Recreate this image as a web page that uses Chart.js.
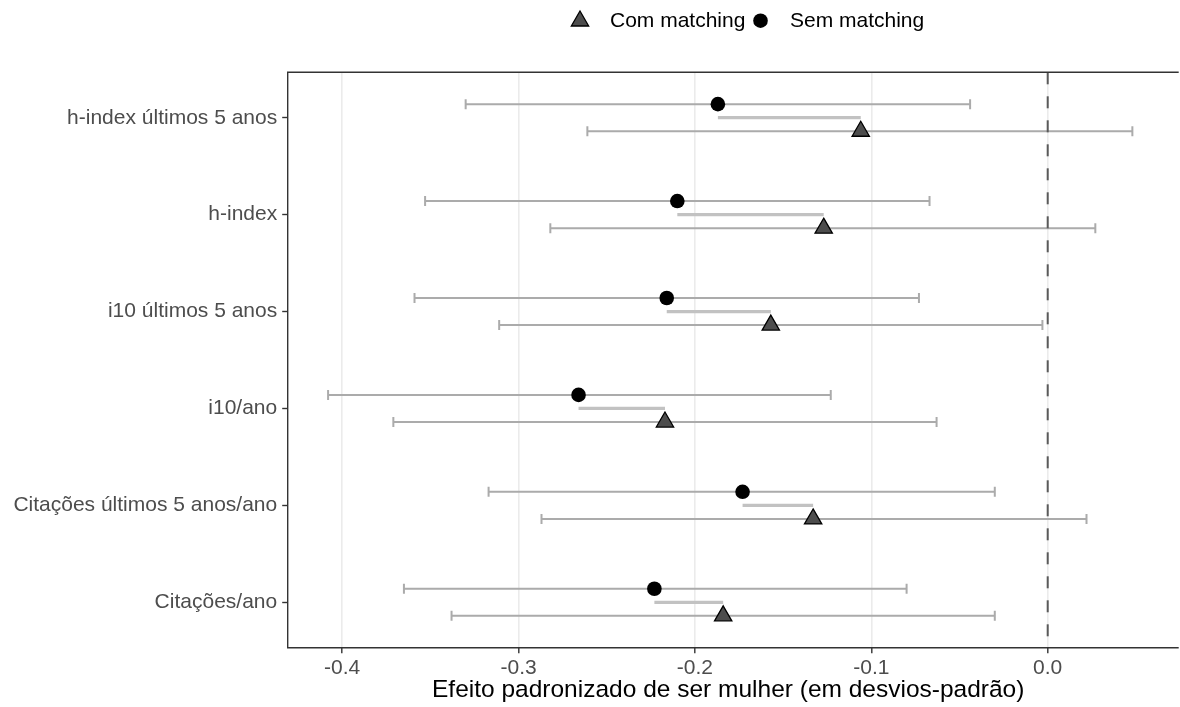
<!DOCTYPE html>
<html>
<head>
<meta charset="utf-8">
<script src="https://cdn.jsdelivr.net/npm/chart.js@4.4.1/dist/chart.umd.min.js"></script>
<style>
  html, body { margin: 0; padding: 0; background: #fff; overflow: hidden; }
  canvas { display: block; }
</style>
</head>
<body>
<canvas id="grafico" width="1180" height="707"></canvas>
<script>
// categorias, de cima para baixo
const categorias = ['h-index últimos 5 anos', 'h-index', 'i10 últimos 5 anos', 'i10/ano', 'Citações últimos 5 anos/ano', 'Citações/ano'];

// Sem matching (círculo)
const semEstimativa = [-0.187, -0.210, -0.216, -0.266, -0.173, -0.223];
const semInferior   = [-0.330, -0.353, -0.359, -0.408, -0.317, -0.365];
const semSuperior   = [-0.044, -0.067, -0.073, -0.123, -0.030, -0.080];

// Com matching (triângulo)
const comEstimativa = [-0.106, -0.127, -0.157, -0.217, -0.133, -0.184];
const comInferior   = [-0.261, -0.282, -0.311, -0.371, -0.287, -0.338];
const comSuperior   = [0.048, 0.027, -0.003, -0.063, 0.022, -0.030];

const ticksX = [-0.4, -0.3, -0.2, -0.1, 0.0];

const FONTE = "'Liberation Sans', Arial, sans-serif";
const desloc = 0.14; // deslocamento vertical de cada série

// monta os segmentos (com quebra via y:null)
const segmentos = (ini, fim, dy) => categorias.flatMap((c, i) => [
    {x: ini[i], y: i + 1 + dy},
    {x: fim[i], y: i + 1 + dy},
    {x: fim[i], y: null}
]);

const pontos = (est, dy) => est.map((v, i) => ({x: v, y: i + 1 + dy}));

// borda do painel (o lado direito fica fora da imagem)
const bordaPainel = {
    id: 'bordaPainel',
    afterDatasetsDraw(chart) {
        const {ctx, chartArea: a} = chart;
        ctx.save();
        ctx.strokeStyle = '#333333';
        ctx.lineWidth = 1.4;
        ctx.beginPath();
        ctx.moveTo(a.right + 10, a.top);
        ctx.lineTo(a.left, a.top);
        ctx.lineTo(a.left, a.bottom);
        ctx.lineTo(a.right + 10, a.bottom);
        ctx.stroke();
        ctx.restore();
    }
};

const legenda = {
    id: 'legenda',
    afterDraw(chart) {
        const ctx = chart.ctx;
        ctx.save();
        // triângulo
        const tx = 580, ty = 21, r = 10;
        ctx.beginPath();
        ctx.moveTo(tx, ty - r);
        ctx.lineTo(tx + 0.866 * r, ty + 0.5 * r);
        ctx.lineTo(tx - 0.866 * r, ty + 0.5 * r);
        ctx.closePath();
        ctx.fillStyle = '#4D4D4D';
        ctx.fill();
        ctx.strokeStyle = '#000';
        ctx.lineWidth = 1.3;
        ctx.stroke();
        // círculo
        ctx.beginPath();
        ctx.arc(760.5, 20.7, 7.3, 0, Math.PI * 2);
        ctx.fillStyle = '#000';
        ctx.fill();
        ctx.font = '21px ' + FONTE;
        ctx.textBaseline = 'middle';
        ctx.fillStyle = '#000';
        ctx.fillText('Com matching', 610, 21);
        ctx.fillText('Sem matching', 790, 21);
        ctx.restore();
    }
};

const ctx = document.getElementById('grafico').getContext('2d');
const grafico = new Chart(ctx, {
    type: 'line',
    data: {
        datasets: [
            {
                label: 'Com matching',
                data: pontos(comEstimativa, desloc),
                showLine: false,
                pointStyle: 'triangle',
                pointRadius: 10,
                pointBackgroundColor: '#4D4D4D',
                pointBorderColor: '#000',
                pointBorderWidth: 1.3,
                order: 0
            },
            {
                label: 'Sem matching',
                data: pontos(semEstimativa, -desloc),
                showLine: false,
                pointStyle: 'circle',
                pointRadius: 7.3,
                pointBackgroundColor: '#000',
                pointBorderColor: '#000',
                pointBorderWidth: 0,
                order: 0
            },
            {
                label: 'zero',
                data: [{x: 0, y: 0.5315}, {x: 0, y: 6.4685}],
                borderColor: '#5A5A5A',
                borderWidth: 2,
                borderDash: [12, 12],
                pointRadius: 0,
                order: 1
            },
            {
                label: 'ic sem',
                data: segmentos(semInferior, semSuperior, -desloc),
                borderColor: '#ABABAB',
                borderWidth: 2,
                pointStyle: 'line',
                pointRotation: 90,
                pointRadius: 5,
                pointBorderColor: '#ABABAB',
                pointBorderWidth: 2,
                spanGaps: false,
                order: 2
            },
            {
                label: 'ic com',
                data: segmentos(comInferior, comSuperior, desloc),
                borderColor: '#ABABAB',
                borderWidth: 2,
                pointStyle: 'line',
                pointRotation: 90,
                pointRadius: 5,
                pointBorderColor: '#ABABAB',
                pointBorderWidth: 2,
                spanGaps: false,
                order: 2
            },
            {
                label: 'diferença',
                data: segmentos(semEstimativa, comEstimativa, 0),
                borderColor: '#C2C2C2',
                borderWidth: 3.3,
                pointRadius: 0,
                spanGaps: false,
                order: 3
            }
        ]
    },
    options: {
        responsive: false,
        animation: false,
        events: [],
        layout: {
            padding: {top: 72.3, left: 0, right: 0, bottom: 0}
        },
        plugins: {
            legend: {display: false},
            tooltip: {enabled: false}
        },
        scales: {
            x: {
                type: 'linear',
                position: 'bottom',
                min: -0.4309,
                max: 0.0686,
                afterBuildTicks: (s) => { s.ticks = ticksX.map(v => ({value: v})); },
                afterFit: (s) => {
                    s.height = 59.3;
                    s.paddingLeft = 0;
                    s.paddingRight = 0;
                },
                border: {display: false},
                grid: {
                    color: '#EBEBEB',
                    lineWidth: 1.6,
                    tickColor: '#333333',
                    tickWidth: 1.4,
                    tickLength: 5.5
                },
                ticks: {
                    color: '#4D4D4D',
                    font: {family: FONTE, size: 21},
                    padding: 2,
                    maxRotation: 0,
                    callback: (v) => Number(v).toFixed(1)
                },
                title: {
                    display: true,
                    text: 'Efeito padronizado de ser mulher (em desvios-padrão)',
                    color: '#000',
                    font: {family: FONTE, size: 24.5},
                    padding: {top: 0, bottom: 2}
                }
            },
            y: {
                type: 'linear',
                reverse: true,
                min: 0.5315,
                max: 6.4685,
                afterBuildTicks: (s) => { s.ticks = categorias.map((c, i) => ({value: i + 1})); },
                afterFit: (s) => {
                    s.width = 287.7;
                    s.paddingTop = 0;
                    s.paddingBottom = 0;
                },
                border: {display: false},
                grid: {
                    drawOnChartArea: false,
                    tickColor: '#333333',
                    tickWidth: 1.4,
                    tickLength: 5.5
                },
                ticks: {
                    color: '#4D4D4D',
                    font: {family: FONTE, size: 21},
                    padding: 5,
                    callback: (v) => categorias[Math.round(v) - 1]
                }
            }
        }
    },
    plugins: [bordaPainel, legenda]
});
</script>
</body>
</html>
